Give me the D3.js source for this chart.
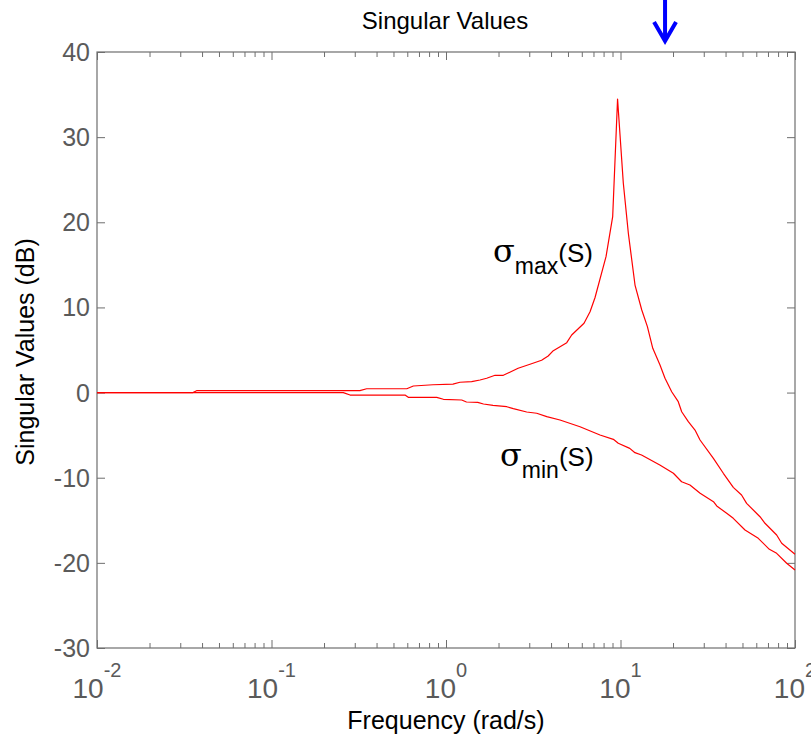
<!DOCTYPE html>
<html>
<head>
<meta charset="utf-8">
<script src="https://cdn.jsdelivr.net/npm/d3@7"></script>
<style>
  html, body { margin: 0; padding: 0; background: #fff; }
  svg { display: block; }
  text { font-family: "Liberation Sans", Arial, sans-serif; }
</style>
</head>
<body>
<svg id="chart" width="811" height="735"></svg>
<script>
// ---- data ----
const sigmaMaxFreq = [0.01, 0.0355, 0.0372, 0.321, 0.351, 0.596, 0.650, 0.842, 1.096, 1.202, 1.403, 1.566, 1.71, 1.91, 2.13, 2.59, 3.03, 3.53, 3.85, 4.12, 4.92, 5.25, 6.18, 6.69, 7.14, 8.26, 9.02, 9.62, 10.38, 11.09, 12.11, 13.24, 14.26, 15.31, 16.84, 17.99, 19.65, 21.43, 22.42, 24.47, 26.73, 28.56, 34.07, 38.84, 44.3, 49.4, 52.8, 63.0, 67.3, 78.5, 83.9, 100];
const sigmaMaxDb   = [0, 0, 0.22, 0.22, 0.45, 0.45, 0.77, 0.92, 1.0, 1.21, 1.28, 1.48, 1.68, 2.03, 2.03, 2.85, 3.32, 3.79, 4.30, 4.92, 5.86, 6.76, 8.14, 9.50, 11.14, 15.96, 20.66, 34.48, 24.58, 18.71, 12.63, 9.70, 7.74, 5.20, 3.24, 1.68, 0.10, -1.07, -2.25, -3.42, -4.40, -5.57, -7.72, -9.48, -11.13, -12.03, -13.01, -14.58, -15.35, -16.73, -17.70, -18.99];

const sigmaMinFreq = [0.01, 0.258, 0.282, 0.582, 0.608, 0.885, 0.966, 1.23, 1.31, 1.52, 1.64, 1.86, 2.23, 2.43, 2.90, 3.31, 3.78, 4.50, 5.86, 7.63, 9.10, 9.71, 11.3, 12.1, 13.2, 16.8, 20.1, 22.4, 25.0, 28.6, 34.1, 35.6, 40.6, 44.3, 51.7, 61.6, 71.3, 78.5, 89.6, 100];
const sigmaMinDb   = [0, 0, -0.29, -0.29, -0.56, -0.56, -0.79, -0.87, -1.11, -1.15, -1.34, -1.50, -1.66, -1.89, -2.28, -2.43, -2.83, -3.22, -4.01, -4.98, -5.49, -5.96, -6.55, -7.06, -7.33, -8.51, -9.48, -10.47, -10.86, -11.83, -12.82, -13.32, -14.18, -14.77, -16.14, -17.12, -18.41, -18.88, -20.05, -20.84];

const yTicks = [-30, -20, -10, 0, 10, 20, 30, 40];
const xDecades = [-2, -1, 0, 1, 2];
const arrowFreq = 18;

const titleText = "Singular Values";
const xLabelText = "Frequency (rad/s)";
const yLabelText = "Singular Values (dB)";

// ---- layout ----
const svg = d3.select("#chart");
const L = 97, R = 795, T = 52, B = 648;
const x = d3.scaleLog().domain([0.01, 100]).range([L, R]);
const y = d3.scaleLinear().domain([-30, 40]).range([B, T]);
const axisColor = "#6e6e6e";
const labelColor = "#5a5a5a";

const majors = xDecades.map(e => Math.pow(10, e));
const minors = [];
for (let e = -2; e < 2; e++) for (let k = 2; k <= 9; k++) minors.push(k * Math.pow(10, e));

function styleAxis(g) {
  g.select(".domain").remove();
  g.selectAll(".tick line").attr("stroke", axisColor).attr("stroke-width", 1);
  g.selectAll(".tick text").remove();
}

// bottom & top axes (ticks inward)
svg.append("g").attr("transform", `translate(0,${B})`)
  .call(d3.axisBottom(x).tickValues(majors).tickSize(-8).tickFormat("")).call(styleAxis);
svg.append("g").attr("transform", `translate(0,${B})`)
  .call(d3.axisBottom(x).tickValues(minors).tickSize(-5).tickFormat("")).call(styleAxis);
svg.append("g").attr("transform", `translate(0,${T})`)
  .call(d3.axisTop(x).tickValues(majors).tickSize(-8).tickFormat("")).call(styleAxis);
svg.append("g").attr("transform", `translate(0,${T})`)
  .call(d3.axisTop(x).tickValues(minors).tickSize(-5).tickFormat("")).call(styleAxis);
// left & right axes
svg.append("g").attr("transform", `translate(${L},0)`)
  .call(d3.axisLeft(y).tickValues(yTicks).tickSize(-8).tickFormat("")).call(styleAxis);
svg.append("g").attr("transform", `translate(${R},0)`)
  .call(d3.axisRight(y).tickValues(yTicks).tickSize(-8).tickFormat("")).call(styleAxis);

// frame
svg.append("rect").attr("x", L).attr("y", T).attr("width", R - L).attr("height", B - T)
  .attr("fill", "none").attr("stroke", axisColor).attr("stroke-width", 1.2);

// y tick labels
svg.append("g").selectAll("text").data(yTicks).join("text")
  .attr("x", L - 7).attr("y", d => y(d)).attr("dy", "0.36em")
  .attr("text-anchor", "end").attr("fill", labelColor).attr("font-size", 25)
  .text(d => d);

// x tick labels 10^e
const xl = svg.append("g").selectAll("text").data(xDecades).join("text")
  .attr("x", d => x(Math.pow(10, d))).attr("y", 698)
  .attr("text-anchor", "middle").attr("fill", labelColor).attr("font-size", 28);
xl.append("tspan").text("10");
xl.append("tspan").attr("dy", -21).attr("font-size", 20).text(d => d);

// curves
const line = d3.line().x(d => x(d[0])).y(d => y(d[1]));
const maxData = sigmaMaxFreq.map((f, i) => [f, sigmaMaxDb[i]]);
const minData = sigmaMinFreq.map((f, i) => [f, sigmaMinDb[i]]);
[minData, maxData].forEach(data => {
  svg.append("path").datum(data).attr("d", line)
    .attr("fill", "none").attr("stroke", "#ff0000").attr("stroke-width", 1.2)
    .attr("stroke-linejoin", "round");
});

// curve labels
function sigmaLabel(px, py, sub) {
  const t = svg.append("text").attr("x", px).attr("y", py).attr("fill", "#000").attr("font-size", 26);
  t.append("tspan").attr("font-family", "DejaVu Serif, serif").attr("font-size", 32).text("σ");
  t.append("tspan").attr("dy", 12).attr("font-size", 23).text(sub);
  t.append("tspan").attr("dy", -12).text("(S)");
}
sigmaLabel(493, 262, "max");
sigmaLabel(500, 466, "min");

// title and axis labels
svg.append("text").attr("x", 445).attr("y", 29).attr("text-anchor", "middle")
  .attr("font-size", 24).attr("fill", "#000").text(titleText);
svg.append("text").attr("x", 446).attr("y", 729).attr("text-anchor", "middle")
  .attr("font-size", 25).attr("fill", "#000").text(xLabelText);
svg.append("text").attr("transform", `translate(34,${(T + B) / 2 + 2}) rotate(-90)`)
  .attr("text-anchor", "middle").attr("font-size", 25).attr("fill", "#000").text(yLabelText);

// blue arrow annotation
const ax = x(arrowFreq);
const arrow = svg.append("g").attr("stroke", "#0000ff").attr("stroke-width", 4).attr("fill", "none");
arrow.append("line").attr("x1", ax).attr("x2", ax).attr("y1", 0).attr("y2", 40);
arrow.append("path").attr("d", `M${ax - 11},${22} L${ax},${41} L${ax + 11},${22}`)
  .attr("stroke-linejoin", "miter");
</script>
</body>
</html>
